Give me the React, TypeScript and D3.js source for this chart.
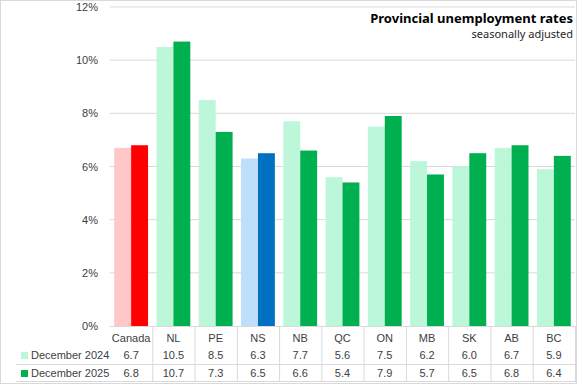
import React from "react";
import * as d3 from "d3";

const regions = ["Canada", "NL", "PE", "NS", "NB", "QC", "ON", "MB", "SK", "AB", "BC"];
const dec2024 = [6.7, 10.5, 8.5, 6.3, 7.7, 5.6, 7.5, 6.2, 6.0, 6.7, 5.9];
const dec2025 = [6.8, 10.7, 7.3, 6.5, 6.6, 5.4, 7.9, 5.7, 6.5, 6.8, 6.4];
const seriesNames = ["December 2024", "December 2025"];
const yTicks = [0, 2, 4, 6, 8, 10, 12];

const lightColor = (r: string) => (r === "Canada" ? "#ffc7c7" : r === "NS" ? "#bddffb" : "#bdf7da");
const darkColor = (r: string) => (r === "Canada" ? "#ff0000" : r === "NS" ? "#0070c0" : "#00b050");

const W = 577, H = 384;
const font = "'Liberation Sans', Arial, sans-serif";

const App: React.FC = () => {
  const x = d3.scaleBand<string>().domain(regions).range([110, 575]).padding(0);
  const x1 = d3.scaleBand<string>().domain(["a", "b"]).range([0, x.bandwidth()]).paddingInner(0).paddingOuter(0.25);
  const y = d3.scaleLinear().domain([0, 12]).range([326, 7]);
  const rows = [dec2024, dec2025];
  const rowY = [355, 373];

  return (
    <svg width={W} height={H} style={{ position: "absolute", left: 0, top: 0, fontFamily: font }}>
      <rect x={0.5} y={0.5} width={W - 1} height={H - 1} fill="#fff" stroke="#d9d9d9" />
      {yTicks.map((t) => (
        <g key={t}>
          {t > 0 && <line x1={110} x2={575} y1={y(t)} y2={y(t)} stroke="#d9d9d9" strokeWidth={1} />}
          <text x={98} y={y(t) + 4} textAnchor="end" fontSize={11} fill="#404040">
            {t}%
          </text>
        </g>
      ))}
      {regions.map((r, i) => (
        <g key={r}>
          <rect x={x(r)! + x1("a")!} y={y(dec2024[i])} width={x1.bandwidth()} height={y(0) - y(dec2024[i])} fill={lightColor(r)} />
          <rect x={x(r)! + x1("b")!} y={y(dec2025[i])} width={x1.bandwidth()} height={y(0) - y(dec2025[i])} fill={darkColor(r)} />
        </g>
      ))}
      <line x1={110} x2={575} y1={y(0) + 0.5} y2={y(0) + 0.5} stroke="#d9d9d9" />
      {/* data table */}
      {regions.map((r, i) => (
        <g key={"t" + r}>
          {i > 0 && <line x1={x(r)! + 0.5} x2={x(r)! + 0.5} y1={326} y2={382} stroke="#d9d9d9" />}
          <text x={x(r)! + x.bandwidth() / 2} y={342} textAnchor="middle" fontSize={11} fill="#404040">
            {r}
          </text>
          {rows.map((vals, k) => (
            <text key={k} x={x(r)! + x.bandwidth() / 2} y={rowY[k] + 4} textAnchor="middle" fontSize={11} fill="#404040">
              {vals[i].toFixed(1)}
            </text>
          ))}
        </g>
      ))}
      <line x1={575.5} x2={575.5} y1={326} y2={382} stroke="#d9d9d9" />
      <line x1={16} x2={575} y1={364.5} y2={364.5} stroke="#d9d9d9" />
      <line x1={16} x2={575} y1={381.5} y2={381.5} stroke="#d9d9d9" />
      {seriesNames.map((s, k) => (
        <g key={s}>
          <rect x={21} y={rowY[k] - 3} width={7} height={7} fill={k === 0 ? "#bdf7da" : "#00b050"} />
          <text x={31} y={rowY[k] + 4} fontSize={11} fill="#404040">
            {s}
          </text>
        </g>
      ))}
      <text x={573} y={23} textAnchor="end" fontSize={13} fontWeight="bold" fill="#000" fontFamily="'Noto Sans', sans-serif">
        Provincial unemployment rates
      </text>
      <text x={573} y={38} textAnchor="end" fontSize={11} fill="#262626" fontFamily="'Noto Sans', sans-serif">
        seasonally adjusted
      </text>
    </svg>
  );
};

export default App;
